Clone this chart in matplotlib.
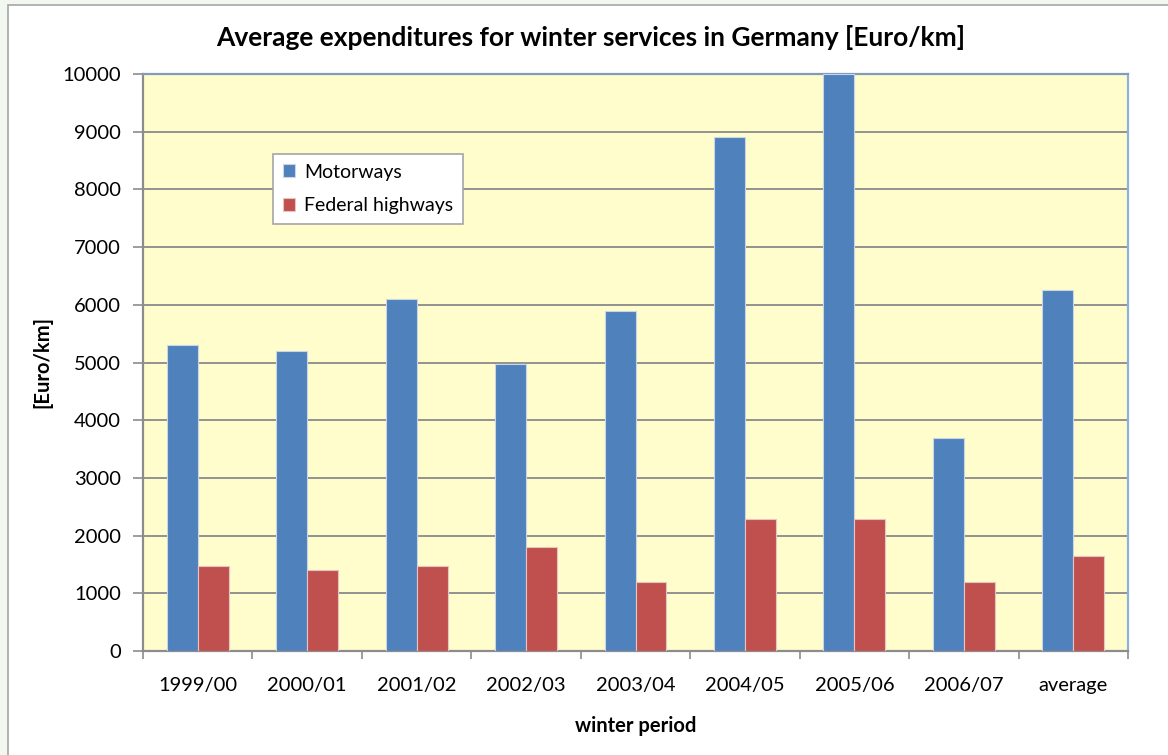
import matplotlib
matplotlib.use("Agg")
import matplotlib.pyplot as plt
from matplotlib.patches import Rectangle
import numpy as np

periods = ["1999/00", "2000/01", "2001/02", "2002/03", "2003/04",
           "2004/05", "2005/06", "2006/07", "average"]
motorways = [5300, 5200, 6100, 4980, 5900, 8900, 10000, 3700, 6250]
federal_highways = [1480, 1400, 1480, 1800, 1200, 2290, 2290, 1200, 1650]
y_ticks = list(range(0, 10001, 1000))

plt.rcParams["font.family"] = ["Lato", "DejaVu Sans"]

W, H = 1168, 755
fig = plt.figure(figsize=(W / 100, H / 100), dpi=100)
fig.patch.set_facecolor("#F2F7F0")

# white chart panel with thin grey border, kept behind the axes
fig.patches.append(Rectangle((8 / W, -0.01), 1.0, 1 - 5 / H + 0.01,
                             transform=fig.transFigure, facecolor="white",
                             edgecolor="#A6A6A6", linewidth=1.2, zorder=-10))

left, right, top, bottom = 143, 1128, 74, 651
ax = fig.add_axes([left / W, 1 - bottom / H, (right - left) / W, (bottom - top) / H])
ax.set_zorder(1)
ax.set_facecolor("#FFFDCC")

x = np.arange(len(periods))
bw = 0.283
ax.bar(x - bw / 2, motorways, width=bw, color="#4F81BD", edgecolor="#C9D6E6",
       linewidth=0.8, label="Motorways", zorder=3)
ax.bar(x + bw / 2, federal_highways, width=bw, color="#C0504D", edgecolor="#E6C4C3",
       linewidth=0.8, label="Federal highways", zorder=3)

ax.set_xlim(-0.5, len(periods) - 0.5)
ax.set_ylim(0, 10000)
ax.set_yticks(y_ticks)
ax.set_yticklabels([str(v) for v in y_ticks], fontsize=14.5)
ax.yaxis.grid(True, color="#929292", linewidth=1.4, zorder=1)
ax.set_axisbelow(True)

ax.set_xticks(x)
ax.set_xticklabels(periods, fontsize=14.5)
ax.set_xticks(np.arange(-0.5, len(periods)), minor=True)
ax.tick_params(axis="x", which="major", length=0, pad=19)
ax.tick_params(axis="x", which="minor", length=6, width=1.2, color="#8C8C8C")
ax.tick_params(axis="y", length=7, width=1.2, color="#8C8C8C", pad=9)

for s in ("left", "bottom"):
    ax.spines[s].set_color("#8C8C8C")
    ax.spines[s].set_linewidth(1.6)
ax.spines["top"].set_color("#7F9BC0")
ax.spines["top"].set_linewidth(1.6)
ax.spines["right"].set_color("#8EB0DA")
ax.spines["right"].set_linewidth(1.6)

fig.text(591 / W, 1 - 38 / H, "Average expenditures for winter services in Germany [Euro/km]",
         ha="center", va="center", fontsize=19, fontweight="bold")
fig.text(42 / W, 1 - 362 / H, "[Euro/km]", rotation=90, ha="center", va="center",
         fontsize=14.5, fontweight="bold")
fig.text(636 / W, 1 - 726 / H, "winter period", ha="center", va="center",
         fontsize=14.5, fontweight="bold")

leg = ax.legend(loc="upper left", bbox_to_anchor=(273 / W, 1 - 154 / H),
                bbox_transform=fig.transFigure, fontsize=14, frameon=True,
                fancybox=False, edgecolor="#A6A6A6", facecolor="white",
                framealpha=1, handlelength=0.65, handleheight=0.65,
                handletextpad=0.45, labelspacing=0.85, borderpad=0.5,
                borderaxespad=0)
leg.get_frame().set_linewidth(1.2)

fig.savefig("out.png", dpi=100, facecolor=fig.get_facecolor())
